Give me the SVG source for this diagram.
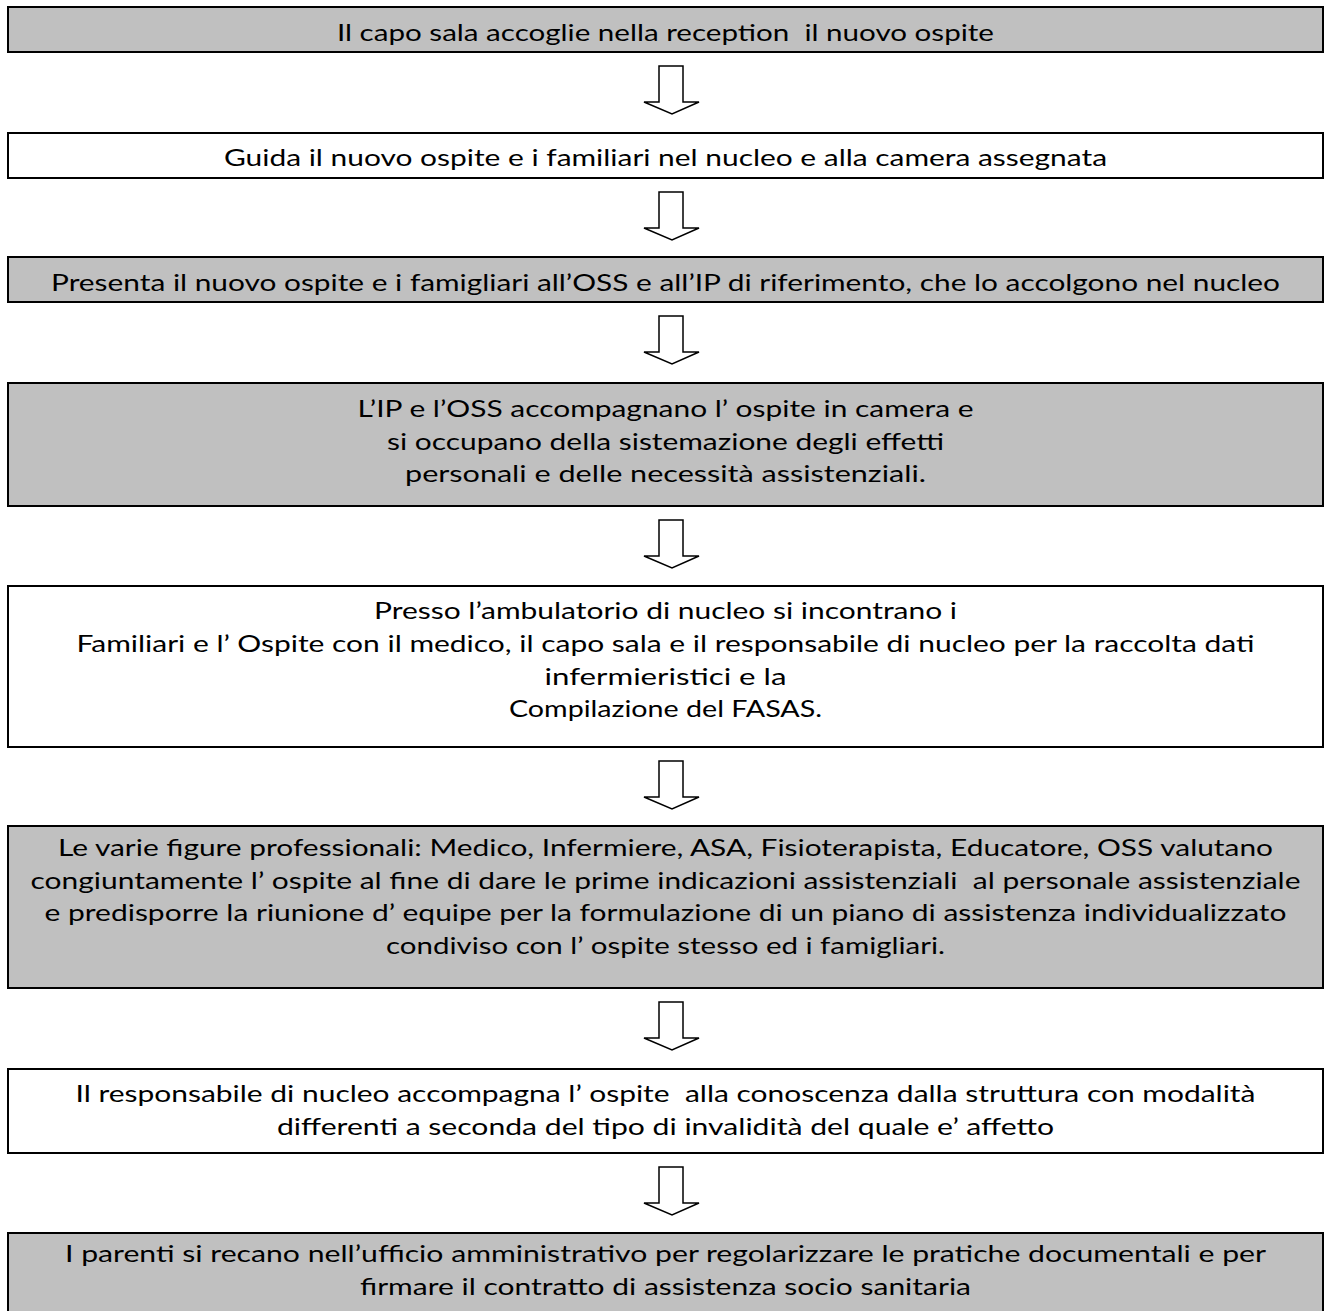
<svg xmlns="http://www.w3.org/2000/svg" width="1325" height="1311" viewBox="0 0 1325 1311">
<style>
.box{stroke:#000;stroke-width:2}
.g{fill:#C0C0C0}
.w{fill:#FFFFFF}
text{font-family:Lato,"Open Sans","Liberation Sans",sans-serif;font-size:24px;fill:#000;text-anchor:middle;white-space:pre}
.arr{fill:#fff;stroke:#000;stroke-width:1.5;stroke-linejoin:miter}
</style>
<defs>
<polygon id="arrow" class="arr" points="659,0 683,0 683,36 699,36 672,48 644,36 659,36"/>
</defs>
<rect width="1325" height="1311" fill="#fff"/>
<g id="connectors">
<use href="#arrow" y="66"/>
<use href="#arrow" y="192"/>
<use href="#arrow" y="316"/>
<use href="#arrow" y="520"/>
<use href="#arrow" y="761"/>
<use href="#arrow" y="1002"/>
<use href="#arrow" y="1167"/>
</g>
<g id="n1">
<rect class="box g" x="8" y="7" width="1315" height="45"/>
<text x="665.5" y="41" textLength="657" lengthAdjust="spacingAndGlyphs">Il capo sala accoglie nella reception  il nuovo ospite</text>
</g>
<g id="n2">
<rect class="box w" x="8" y="133" width="1315" height="45"/>
<text x="665.5" y="166" textLength="883" lengthAdjust="spacingAndGlyphs">Guida il nuovo ospite e i familiari nel nucleo e alla camera assegnata</text>
</g>
<g id="n3">
<rect class="box g" x="8" y="257" width="1315" height="45"/>
<text x="665.5" y="291" textLength="1229" lengthAdjust="spacingAndGlyphs">Presenta il nuovo ospite e i famigliari all’OSS e all’IP di riferimento, che lo accolgono nel nucleo</text>
</g>
<g id="n4">
<rect class="box g" x="8" y="383" width="1315" height="123"/>
<text x="665.5" y="417" textLength="616" lengthAdjust="spacingAndGlyphs">L’IP e l’OSS accompagnano l’ ospite in camera e</text>
<text x="665.5" y="449.5" textLength="557" lengthAdjust="spacingAndGlyphs">si occupano della sistemazione degli effetti</text>
<text x="665.5" y="482" textLength="521" lengthAdjust="spacingAndGlyphs">personali e delle necessità assistenziali.</text>
</g>
<g id="n5">
<rect class="box w" x="8" y="586" width="1315" height="161"/>
<text x="665.5" y="619" textLength="583" lengthAdjust="spacingAndGlyphs">Presso l’ambulatorio di nucleo si incontrano i</text>
<text x="665.5" y="652" textLength="1178" lengthAdjust="spacingAndGlyphs">Familiari e l’ Ospite con il medico, il capo sala e il responsabile di nucleo per la raccolta dati</text>
<text x="665.5" y="684.5" textLength="242" lengthAdjust="spacingAndGlyphs">infermieristici e la</text>
<text x="665.5" y="717" textLength="313" lengthAdjust="spacingAndGlyphs">Compilazione del FASAS.</text>
</g>
<g id="n6">
<rect class="box g" x="8" y="826" width="1315" height="162"/>
<text x="665.5" y="856" textLength="1215" lengthAdjust="spacingAndGlyphs">Le varie figure professionali: Medico, Infermiere, ASA, Fisioterapista, Educatore, OSS valutano</text>
<text x="665.5" y="888.5" textLength="1270" lengthAdjust="spacingAndGlyphs">congiuntamente l’ ospite al fine di dare le prime indicazioni assistenziali  al personale assistenziale</text>
<text x="665.5" y="921" textLength="1242" lengthAdjust="spacingAndGlyphs">e predisporre la riunione d’ equipe per la formulazione di un piano di assistenza individualizzato</text>
<text x="665.5" y="953.5" textLength="559" lengthAdjust="spacingAndGlyphs">condiviso con l’ ospite stesso ed i famigliari.</text>
</g>
<g id="n7">
<rect class="box w" x="8" y="1069" width="1315" height="84"/>
<text x="665.5" y="1102" textLength="1180" lengthAdjust="spacingAndGlyphs">Il responsabile di nucleo accompagna l’ ospite  alla conoscenza dalla struttura con modalità</text>
<text x="665.5" y="1134.5" textLength="777" lengthAdjust="spacingAndGlyphs">differenti a seconda del tipo di invalidità del quale e’ affetto</text>
</g>
<g id="n8">
<rect class="box g" x="8" y="1233" width="1315" height="86"/>
<text x="665.5" y="1262" textLength="1201" lengthAdjust="spacingAndGlyphs">I parenti si recano nell’ufficio amministrativo per regolarizzare le pratiche documentali e per</text>
<text x="665.5" y="1294.5" textLength="611" lengthAdjust="spacingAndGlyphs">firmare il contratto di assistenza socio sanitaria</text>
</g>
</svg>
